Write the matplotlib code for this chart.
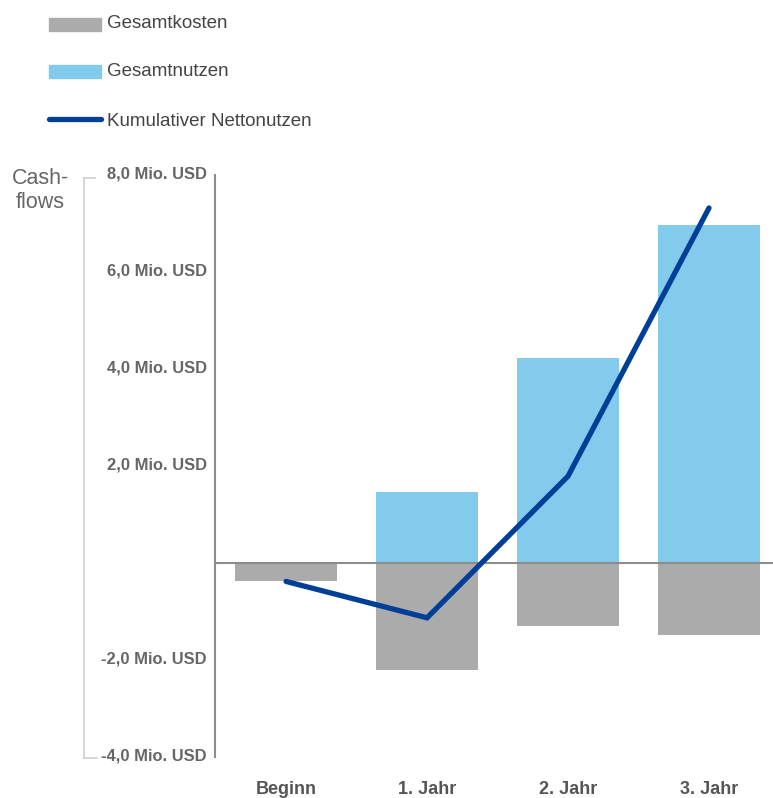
import matplotlib.pyplot as plt
import matplotlib.transforms as mtrans
from matplotlib.patches import Rectangle
from matplotlib.lines import Line2D
import numpy as np

plt.rcParams['font.family'] = ['Liberation Sans', 'DejaVu Sans']

# data (Mio. USD)
categories = ["Beginn", "1. Jahr", "2. Jahr", "3. Jahr"]
kosten = [-0.38, -2.2, -1.3, -1.48]
nutzen = [0.0, 1.46, 4.23, 6.97]
netto_kum = [-0.38, -1.13, 1.79, 7.32]
yticks = [-4, -2, 2, 4, 6, 8]
ytick_labels = ["-4,0 Mio. USD", "-2,0 Mio. USD", "2,0 Mio. USD",
                "4,0 Mio. USD", "6,0 Mio. USD", "8,0 Mio. USD"]

grau = "#ababab"
hellblau = "#82cbec"
navy = "#003f98"
textgrau = "#666666"

W, H = 773, 798
fig = plt.figure(figsize=(W / 100, H / 100), dpi=100)
ax = fig.add_axes([215 / W, 1 - 757 / H, 1 - 215 / W, (757 - 175) / H])

x = np.arange(len(categories))
ax.bar(x, kosten, width=0.725, color=grau, zorder=2)
ax.bar(x, nutzen, width=0.725, color=hellblau, zorder=2)
ax.axhline(0, color="#8c8c8c", lw=1.5, zorder=3)
ax.plot(x, netto_kum, color=navy, lw=3.8, solid_capstyle="round",
        solid_joinstyle="miter", zorder=4)

ax.set_xlim(-0.504, 3.454)
ax.set_ylim(-4, 8)
for s in ["top", "right", "bottom"]:
    ax.spines[s].set_visible(False)
ax.spines["left"].set_color("#8c8c8c")
ax.spines["left"].set_linewidth(1.5)

ax.set_yticks(yticks)
ax.set_yticklabels(ytick_labels, fontsize=11.9, fontweight="bold", color=textgrau)
ax.set_xticks(x)
ax.set_xticklabels(categories, fontsize=13, fontweight="bold", color="#555555")
ax.tick_params(axis="y", length=0, pad=6)
ax.tick_params(axis="x", length=0, pad=17)
# y labels sit slightly above their ticks
offset = mtrans.ScaledTranslation(0, -5 / 72, fig.dpi_scale_trans)
for lbl in ax.get_yticklabels():
    lbl.set_verticalalignment("bottom")
    lbl.set_transform(lbl.get_transform() + offset)

# bracket on the left
fx = 84 / W
fig.add_artist(Line2D([fx, fx], [1 - 178 / H, 1 - 758 / H], color="#d0d0d0", lw=1.2))
fig.add_artist(Line2D([fx, 95 / W], [1 - 178 / H, 1 - 178 / H], color="#d0d0d0", lw=1.2))
fig.add_artist(Line2D([fx, 97 / W], [1 - 758 / H, 1 - 758 / H], color="#d0d0d0", lw=1.2))

fig.text(69 / W, 1 - 179 / H, "Cash-", ha="right", va="center", fontsize=15.5, color=textgrau)
fig.text(65 / W, 1 - 202 / H, "flows", ha="right", va="center", fontsize=15.5, color=textgrau)

# legend
items = [("Gesamtkosten", grau, "patch", 24, 23),
         ("Gesamtnutzen", hellblau, "patch", 71, 71),
         ("Kumulativer Nettonutzen", navy, "line", 119, 122)]
for name, col, kind, yc, yt in items:
    if kind == "patch":
        fig.add_artist(Rectangle((49 / W, 1 - (yc + 7) / H), 52 / W, 13 / H,
                                 color=col, transform=fig.transFigure))
    else:
        fig.add_artist(Line2D([49 / W, 101 / W], [1 - yc / H, 1 - yc / H], color=col,
                              lw=3.8, solid_capstyle="round"))
    fig.text(107 / W, 1 - yt / H, name, ha="left", va="center",
             fontsize=13.5, color="#444444")

fig.savefig("out.png", dpi=100)
